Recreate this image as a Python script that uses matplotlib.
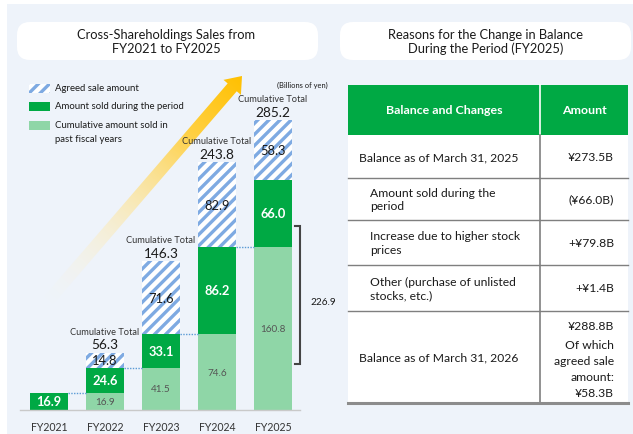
import numpy as np
import matplotlib
matplotlib.use("Agg")
import matplotlib.pyplot as plt
from matplotlib.patches import Rectangle, FancyBboxPatch, Polygon

plt.rcParams['font.family'] = ['Lato', 'DejaVu Sans']
plt.rcParams['hatch.linewidth'] = 2.4

# ---- data (billions of yen) ----
years = ['FY2021', 'FY2022', 'FY2023', 'FY2024', 'FY2025']
past_sold = [0.0, 16.9, 41.5, 74.6, 160.8]      # cumulative amount sold in past fiscal years
period_sold = [16.9, 24.6, 33.1, 86.2, 66.0]    # amount sold during the period
agreed = [0.0, 14.8, 71.6, 82.9, 58.3]          # agreed sale amount
cum_totals = [None, 56.3, 146.3, 243.8, 285.2]
bracket_value = 226.9

table_header = ['Balance and Changes', 'Amount']
table_items = ['Balance as of March 31, 2025',
               'Amount sold during the\nperiod',
               'Increase due to higher stock\nprices',
               'Other (purchase of unlisted\nstocks, etc.)',
               'Balance as of March 31, 2026']
table_amounts = ['¥273.5B', '(¥66.0B)', '+¥79.8B', '+¥1.4B', '¥288.8B']
final_note = ['Of which', 'agreed sale', 'amount:', '¥58.3B']

GREEN = '#00A944'
LIGHT = '#8FD6A7'
HATCH = '#7EAAE2'
PANEL = '#EEF3FA'
TXT = '#1a1a1a'

W, H = 633, 435
fig = plt.figure(figsize=(W / 100, H / 100), dpi=100)
fig.patch.set_facecolor('white')

# background / decoration layer in pixel coordinates
ov = fig.add_axes([0, 0, 1, 1], zorder=0)
ov.set_xlim(0, W)
ov.set_ylim(H, 0)
ov.axis('off')

ov.add_patch(Rectangle((7, 5), W - 7, H - 5, facecolor=PANEL, edgecolor='none'))
for x0, x1 in [(17, 318), (340, 631)]:
    ov.add_patch(FancyBboxPatch((x0, 23), x1 - x0, 38,
                                boxstyle='round,pad=0,rounding_size=13',
                                facecolor='white', edgecolor='none'))
ov.text(166, 42, 'Cross-Shareholdings Sales from\nFY2021 to FY2025', ha='center',
        va='center', fontsize=9.3, color=TXT, linespacing=1.2)
ov.text(486, 42, 'Reasons for the Change in Balance\nDuring the Period (FY2025)',
        ha='center', va='center', fontsize=9.3, color=TXT, linespacing=1.2)

# gradient arrow
S = np.array([48.0, 302.0])
T = np.array([242.0, 77.0])
L = np.linalg.norm(T - S)
u = (T - S) / L
n = np.array([-u[1], u[0]])
hw, hh, hl = 6.0, 11.5, 15.0
B = T - u * hl
poly = np.array([S + n * hw, B + n * hw, B + n * hh, T, B - n * hh, B - n * hw, S - n * hw])
arrow = Polygon(poly, closed=True, facecolor='none', edgecolor='none')
ov.add_patch(arrow)
Y, X = np.mgrid[0:H, 0:W] + 0.5
t = np.clip(((X - S[0]) * u[0] + (Y - S[1]) * u[1]) / L, 0, 1)
c0 = np.array([255, 246, 220]) / 255
c1 = np.array([255, 192, 0]) / 255
img = np.zeros((H, W, 4))
for k in range(3):
    img[..., k] = c0[k] + (c1[k] - c0[k]) * t ** 1.2
img[..., 3] = np.clip(t * 1.35, 0, 1) ** 1.0
im = ov.imshow(img, extent=(0, W, H, 0), origin='upper', interpolation='bilinear', zorder=2)
im.set_clip_path(arrow)
ov.set_aspect('auto')
ov.set_xlim(0, W)
ov.set_ylim(H, 0)

# legend
leg = [('Agreed sale amount', 'hatch', 89),
       ('Amount sold during the period', GREEN, 107),
       ('Cumulative amount sold in\npast fiscal years', LIGHT, 126)]
for label, style, yc in leg:
    if style == 'hatch':
        ov.add_patch(Rectangle((29, yc - 4.5), 21, 9, facecolor='white', edgecolor=HATCH,
                               linewidth=0, hatch='///', zorder=3))
    else:
        ov.add_patch(Rectangle((29, yc - 4.5), 21, 9, facecolor=style, edgecolor='none', zorder=3))
    ov.text(55, yc - 0.5, label.split('\n')[0], ha='left', va='center', fontsize=6.9, color=TXT)
    if '\n' in label:
        ov.text(55, yc + 14, label.split('\n')[1], ha='left', va='center', fontsize=6.9, color=TXT)

ov.text(328, 85, '(Billions of yen)', ha='right', va='center', fontsize=5.4, color=TXT)

# bracket for cumulative sold amount
ov.plot([295, 300, 300, 295], [227, 227, 365, 365], color='#444444', lw=1.5,
        solid_joinstyle='miter', zorder=3)
ov.text(310, 303, f'{bracket_value:.1f}', ha='left', va='center', fontsize=7.2, color=TXT)

# table
tx0, tx1, tdiv = 348, 628, 540
row_edges = [136, 179, 221, 266, 312, 404]
ov.add_patch(Rectangle((tx0, 86), tx1 - tx0, 50, facecolor=GREEN, edgecolor='none'))
ov.add_patch(Rectangle((tx0, 136), tx1 - tx0, 268, facecolor='white', edgecolor='none'))
ov.plot([tdiv, tdiv], [86, 136], color='white', lw=1.2)
ov.plot([tdiv, tdiv], [136, 404], color='#7f7f7f', lw=1.2)
for ye in row_edges[1:-1]:
    ov.plot([tx0, tx1], [ye, ye], color='#7f7f7f', lw=1.0)
ov.plot([tx0, tx1], [404, 404], color='#8c8c8c', lw=2.2)
ov.text(444, 111, table_header[0], ha='center', va='center', fontsize=8.9,
        fontweight='bold', color='white')
ov.text(584, 111, table_header[1], ha='center', va='center', fontsize=8.9,
        fontweight='bold', color='white')
for i, (item, amt) in enumerate(zip(table_items, table_amounts)):
    y0, y1 = row_edges[i], row_edges[i + 1]
    indent = 359 if i in (0, len(table_items) - 1) else 370
    ov.text(indent, (y0 + y1) / 2, item, ha='left', va='center', fontsize=8.7,
            color=TXT, linespacing=1.3)
    if i < len(table_items) - 1:
        ov.text(614, (y0 + y1) / 2, amt, ha='right', va='center', fontsize=8.7, color=TXT)
    else:
        ov.text(614, 327, amt, ha='right', va='center', fontsize=8.7, color=TXT)
        for j, line in enumerate(final_note):
            ov.text(614, 346 + 15.7 * j, line, ha='right', va='center', fontsize=8.7, color=TXT)

# ---- bar chart ----
px_per_unit = 1.016
ax_l, ax_r, ax_b, ax_t = 20, 300, 411, 60
ax = fig.add_axes([ax_l / W, (H - ax_b) / H, (ax_r - ax_l) / W, (ax_b - ax_t) / H], zorder=1)
ax.patch.set_alpha(0)
ax.set_ylim(0, (ax_b - ax_t) / px_per_unit)
spacing = 56.0
c0x = 49.0
ax.set_xlim((ax_l - c0x) / spacing, (ax_r - c0x) / spacing)
x = np.arange(len(years))
bw = 38.5 / spacing
past = np.array(past_sold)
sold = np.array(period_sold)
agr = np.array(agreed)

ax.bar(x, past, bw, color=LIGHT, linewidth=0)
ax.bar(x, sold, bw, bottom=past, color=GREEN, linewidth=0)
ax.bar(x, agr, bw, bottom=past + sold, color='white', edgecolor=HATCH, hatch='///', linewidth=0)

for i in range(len(years)):
    if past[i] > 0:
        ax.text(x[i], past[i] / 2, f'{past[i]:.1f}', ha='center', va='center',
                fontsize=7.2, color='#555555')
    ax.text(x[i], past[i] + sold[i] / 2, f'{sold[i]:.1f}', ha='center', va='center',
            fontsize=9.3, fontweight='bold', color='white')
    if agr[i] > 0:
        ax.text(x[i], past[i] + sold[i] + agr[i] / 2, f'{agr[i]:.1f}', ha='center',
                va='center', fontsize=9.3, color=TXT)
    if cum_totals[i] is not None:
        top = past[i] + sold[i] + agr[i]
        ax.annotate(f'{cum_totals[i]:.1f}', (x[i], top), xytext=(0, 6.2),
                    textcoords='offset points', ha='center', va='center', fontsize=9.8, color=TXT)
        ax.annotate('Cumulative Total', (x[i], top), xytext=(0, 15.6),
                    textcoords='offset points', ha='center', va='center', fontsize=6.7, color='#333333')
    # dotted connector to next bar
    if i < len(years) - 1:
        ax.plot([x[i] + bw / 2, x[i + 1] - bw / 2], [past[i + 1], past[i + 1]],
                color='#5B9BD5', lw=1.0, ls=(0, (1, 1)))

for s in ['top', 'right', 'left']:
    ax.spines[s].set_visible(False)
ax.spines['bottom'].set_color('#c9c9c9')
ax.spines['bottom'].set_linewidth(1.0)
ax.set_yticks([])
ax.set_xticks(x)
ax.set_xticklabels(years, fontsize=7.6, color='#333333')
ax.tick_params(axis='x', length=0, pad=8)

fig.savefig('out.png', dpi=100, facecolor='white')
